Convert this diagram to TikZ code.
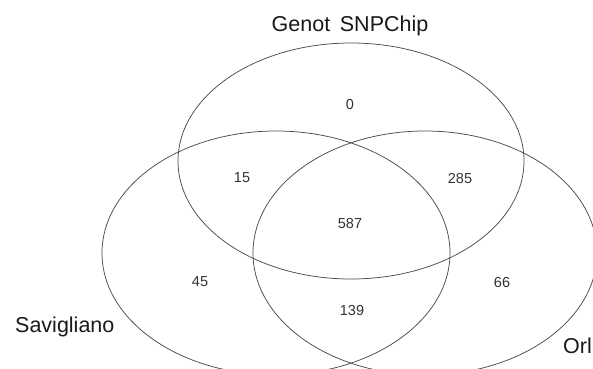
\documentclass[tikz,border=0pt]{standalone}
\usepackage{fontspec}
\setmainfont{Liberation Sans}
\begin{document}
\begin{tikzpicture}[x=1pt,y=-1pt,
  set/.style={draw=black!70,line width=0.75pt},
  lab/.style={font=\fontsize{21.5}{24}\selectfont,text=black!90,inner sep=0pt,anchor=base},
  num/.style={font=\fontsize{14.5}{16}\selectfont,text=black!80,inner sep=0pt}]
\useasboundingbox[fill=white] (0,0) rectangle (593,368);
\draw[set] (351,161) ellipse [x radius=173, y radius=118];
\draw[set] (276,253) ellipse [x radius=174, y radius=122];
\draw[set] (425,253) ellipse [x radius=172, y radius=122];
\node[lab] (gen) at (350,31) {Genot\hspace{0.45em}SNPChip};
\node[lab,anchor=base west] (sav) at (15,332) {Savigliano};
\node[lab,anchor=base west] (orl) at (563,353) {Orl};
\node[num] (n0) at (350,105) {0};
\node[num] (n15) at (242,178) {15};
\node[num] (n285) at (460,179) {285};
\node[num] (n587) at (350,223) {587};
\node[num] (n45) at (200,282) {45};
\node[num] (n66) at (502,282) {66};
\node[num] (n139) at (352,310) {139};
\end{tikzpicture}
\end{document}
